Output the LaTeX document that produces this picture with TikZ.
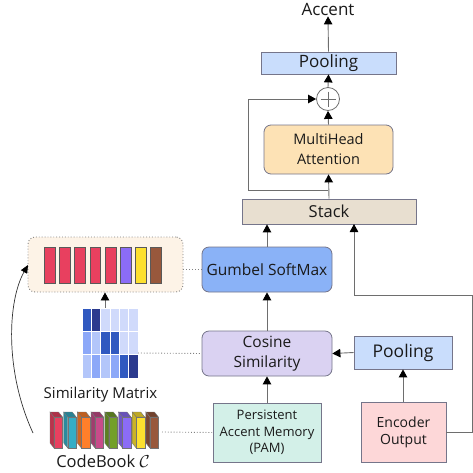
\documentclass[tikz,border=0pt]{standalone}
\usepackage{fontspec}
\setmainfont{Open Sans}
\usetikzlibrary{arrows.meta,calc}
\definecolor{linegray}{HTML}{6E6E6E}
\definecolor{bordergray}{HTML}{75758A}
\definecolor{txt}{HTML}{1A1A1A}
\definecolor{poolblue}{HTML}{C9DDFC}
\definecolor{mhaorange}{HTML}{FDE2B5}
\definecolor{stackbeige}{HTML}{E8DFD0}
\definecolor{gumbelblue}{HTML}{8AB2F7}
\definecolor{coslav}{HTML}{DAD2F2}
\definecolor{pammint}{HTML}{D3F0E8}
\definecolor{encpink}{HTML}{FDD7D8}
\definecolor{cream}{HTML}{FDF3E7}
\definecolor{cred}{HTML}{E8405F}
\definecolor{ccyan}{HTML}{35ADC6}
\definecolor{corange}{HTML}{FF7F2A}
\definecolor{cmag}{HTML}{C84B8A}
\definecolor{cgreen}{HTML}{73A029}
\definecolor{cpurple}{HTML}{8B6CF6}
\definecolor{cyellow}{HTML}{FDE02F}
\definecolor{cbrown}{HTML}{98583C}
\definecolor{mdark}{HTML}{3059C0}
\definecolor{mnavy}{HTML}{2B3A8E}
\definecolor{mlight}{HTML}{D0DAFB}
\definecolor{mmed}{HTML}{8CA8F8}
\definecolor{mpale}{HTML}{B3C6FA}
\begin{document}
\begin{tikzpicture}[x=1pt,y=-1pt,
  conn/.style={draw=linegray, line width=0.9pt, -{Triangle[length=8pt,width=8.5pt,color=black]}},
  dots/.style={draw=gray, dotted, line width=0.9pt},
  box/.style={draw=bordergray, line width=0.8pt, align=center, inner sep=0pt, text=txt},
  rbox/.style={box, rounded corners=7pt},
  bar/.style={draw=black!65, line width=0.6pt},
  cell/.style={draw=white, line width=0.8pt}
]
\useasboundingbox (0,0) rectangle (473,472);

% main column
\node[text=txt, inner sep=1pt, font=\fontsize{17}{20}\selectfont] (accent) at (328,9) {Accent};
\node[box, fill=poolblue, minimum width=135pt, minimum height=22pt, font=\fontsize{17}{20}\selectfont] (pool1) at (328.5,63) {Pooling};
\node[circle, draw=linegray, line width=0.8pt, fill=white, minimum size=23pt, inner sep=0pt] (plus) at (328,99) {};
\draw[linegray, line width=0.8pt] ($(plus.center)+(-7.5,0)$) -- ($(plus.center)+(7.5,0)$);
\draw[linegray, line width=0.8pt] ($(plus.center)+(0,-7.5)$) -- ($(plus.center)+(0,7.5)$);
\node[rbox, fill=mhaorange, minimum width=129pt, minimum height=49pt, font=\fontsize{14.5}{20}\selectfont] (mha) at (328.5,149.5) {MultiHead\\Attention};
\node[box, fill=stackbeige, minimum width=174pt, minimum height=25pt, font=\fontsize{16.5}{19}\selectfont] (stack) at (329,211.5) {Stack};
\node[rbox, fill=gumbelblue, minimum width=130pt, minimum height=45pt, font=\fontsize{15.5}{19}\selectfont] (gumbel) at (267,269.5) {Gumbel SoftMax};
\node[rbox, fill=coslav, minimum width=130pt, minimum height=45pt, font=\fontsize{15.5}{20}\selectfont] (cos) at (267,353.5) {Cosine\\Similarity};
\node[box, fill=poolblue, minimum width=98pt, minimum height=33pt, font=\fontsize{17.5}{19}\selectfont] (pool2) at (403,352.5) {Pooling};
\node[box, fill=pammint, minimum width=108pt, minimum height=59pt, font=\fontsize{13}{16.5}\selectfont] (pam) at (267,432.5) {Persistent\\Accent Memory\\(PAM)};
\node[box, fill=encpink, minimum width=85pt, minimum height=60pt, font=\fontsize{14}{17}\selectfont] (enc) at (403.5,432) {Encoder\\Output};

% connectors
\draw[conn] (pool1.north) -- (accent.south);
\draw[conn] (plus.north) -- (pool1.south);
\draw[conn] (mha.north) -- (plus.south);
\draw[conn] (stack.north) -- (mha.south);
\coordinate (res) at (328,190);
\draw[conn] (res) -- (248,190) -- (248,99) -- (plus.west);
\draw[conn] (gumbel.north) -- (gumbel.north |- stack.south);
\coordinate (encr) at (472.5,432);
\coordinate (stk) at (354,224);
\draw[conn] (enc.east) -- (encr) -- (472.5,295) -- (354,295) -- (stk);
\draw[conn] (cos.north) -- (gumbel.south);
\draw[conn] (pool2.west) -- (cos.east);
\draw[conn] (enc.north -| pool2.south) -- (pool2.south);
\draw[conn] (pam.north) -- (cos.south);

% dotted selection box
\node[draw=gray, dotted, line width=0.9pt, fill=cream, rounded corners=7pt, minimum width=155pt, minimum height=55pt, inner sep=0pt] (dbox) at (105.5,264.5) {};
\foreach \i/\c in {0/cred,1/cred,2/cred,3/cred,4/cred,5/cpurple,6/cyellow,7/cbrown}{
  \path[bar, fill=\c] ({44.3+15.2*\i},247) rectangle ({44.3+15.2*\i+10.7},283);
}

% similarity matrix
\node[inner sep=0pt, minimum width=56pt, minimum height=70pt] (mat) at (110,343) {};
\foreach \r/\row in {0/{mdark,mnavy,mlight,mlight,mlight,mlight},1/{mmed,mpale,mdark,mdark,mlight,mlight},2/{mpale,mmed,mpale,mmed,mdark,mnavy}}{
  \foreach \c [count=\k from 0] in \row {
    \path[cell, fill=\c] ({82+9.333*\k},{308+23.333*\r}) rectangle ({82+9.333*(\k+1)},{308+23.333*(\r+1)});
  }
}
\node[text=txt, font=\fontsize{15}{17}\selectfont] (simlabel) at (100.5,395) {Similarity Matrix};

% codebook
\node[inner sep=0pt, minimum width=112pt, minimum height=36pt] (cb) at (106,430) {};
\foreach \i/\c in {0/cred,1/ccyan,2/corange,3/cmag,4/cgreen,5/cpurple,6/cyellow,7/cbrown}{
  \pgfmathsetmacro{\xo}{50+13.7*\i}
  \path[draw=black!55, line width=0.4pt, fill=\c!75!black] (\xo,412) -- ({\xo+8.5},412) -- ({\xo+12.5},417) -- ({\xo+4},417) -- cycle;
  \path[draw=black!55, line width=0.4pt, fill=\c!80!black] (\xo,412) -- ({\xo+4},417) -- ({\xo+4},448) -- (\xo,443) -- cycle;
  \path[draw=black!55, line width=0.4pt, fill=\c] ({\xo+4},417) rectangle ({\xo+12.5},448);
}
\node[text=txt, font=\fontsize{16.5}{18}\selectfont] (cblabel) at (103,461) {CodeBook $\mathcal{C}$};

% left connectors
\draw[conn] (mat.north -| 105,0) -- (dbox.south -| 105,0);
\coordinate (cbl) at (33,433);
\coordinate (dbl) at (28,265);
\draw[draw=black!80, line width=0.7pt, -{Triangle[length=8pt,width=7pt,color=black]}] (cbl) .. controls (4,370) and (8,300) .. (dbl);

% dotted links
\draw[dots] (dbox.east |- gumbel.west) -- (gumbel.west);
\draw[dots] (138,353) -- (cos.west);
\draw[dots] (162,432) -- (pam.west);
\end{tikzpicture}
\end{document}
